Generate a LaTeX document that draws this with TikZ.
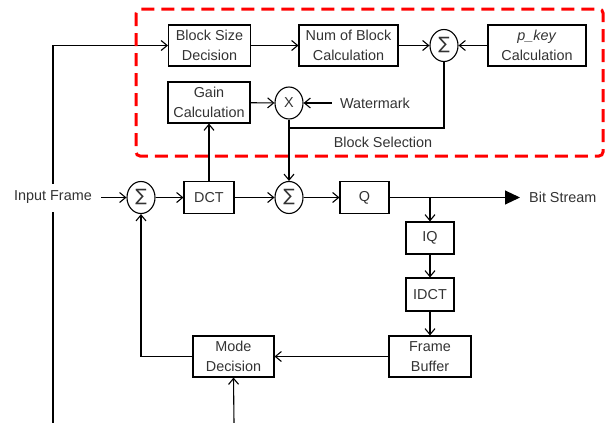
\documentclass[tikz,border=0pt]{standalone}
\usepackage{fontspec}
\setmainfont{Liberation Sans}
\newfontfamily\symfont{DejaVu Sans}
\usetikzlibrary{arrows.meta,shapes.geometric}
\pgfdeclarelayer{bg}
\pgfsetlayers{bg,main}
\begin{document}
\begin{tikzpicture}[x=1pt,y=-1pt,
  font=\fontsize{14.4}{19.5}\selectfont,
  every node/.style={text=black!80},
  box/.style 2 args={draw=black,line width=1.1pt,minimum width=#1,minimum height=#2,inner sep=0pt,align=center},
  sumnode/.style={draw=black,ellipse,line width=1.1pt,minimum width=28pt,minimum height=32pt,inner sep=0pt,font=\symfont\fontsize{17}{17}\selectfont},
  txt/.style={inner sep=2pt},
  ln/.style={draw=black,line width=1.1pt},
  arr/.style={ln,-{Straight Barb[length=6pt,width=10pt]}},
  bigarr/.style={ln,-{Triangle[length=15pt,width=14pt]}},
  region/.style={draw=red,line width=3pt,dash pattern=on 13pt off 7pt,rounded corners=4pt}]
\useasboundingbox (0,0) rectangle (606,423);

% region frame
\draw[region] (136,9) rectangle (603,156);

% nodes
\node[box={82pt}{41pt}] (bsd) at (209.5,45.5) {Block Size\\Decision};
\node[box={99pt}{41pt}] (nbc) at (348.5,45.5) {Num of Block\\Calculation};
\node[sumnode] (s3) at (444,45.5) {∑};
\node[box={98pt}{41pt}] (pk) at (537,45.5) {\textit{p\_key}\\Calculation};
\node[box={82pt}{41pt}] (gain) at (209,102.5) {Gain\\Calculation};
\node[sumnode,font=\fontsize{14.4}{14.4}\selectfont] (mul) at (289,103) {X};
\node[txt] (wm) at (375,103) {Watermark};
\node[txt] (bsel) at (383,142) {Block Selection};
\node[txt,fill=white,inner xsep=9pt,minimum height=28pt] (in) at (53,197.5) {Input Frame};
\node[sumnode] (s1) at (141,197.5) {∑};
\node[box={50pt}{32pt}] (dct) at (209,197.5) {DCT};
\node[sumnode] (s2) at (289,197.5) {∑};
\node[box={49pt}{32pt}] (q) at (364.5,197.5) {Q};
\node[txt,anchor=west,inner xsep=9pt] (bs) at (520,197.5) {Bit Stream};
\node[box={48pt}{32pt}] (iq) at (430,238) {IQ};
\node[box={48pt}{33pt}] (idct) at (430,294.5) {IDCT};
\node[box={82pt}{41pt}] (fb) at (430,356.5) {Frame\\Buffer};
\node[box={81pt}{41pt}] (md) at (233.5,356.5) {Mode\\Decision};
\coordinate (vb) at (53,423);
\coordinate (mdb) at (234,423);
\coordinate (selj) at (289,128);

% connectors
\begin{pgfonlayer}{bg}
\draw[arr] (vb) |- (bsd.west);
\end{pgfonlayer}
\draw[arr] (bsd) -- (nbc);
\draw[arr] (nbc) -- (s3);
\draw[arr] (pk) -- (s3);
\draw[arr] (gain) -- (mul);
\draw[arr] (wm.west) ++(-6pt,0) -- (mul.east);
\draw[ln] (s3.south) |- (selj);
\draw[arr] (mul) -- (s2);
\draw[arr] (dct) -- (gain);
\draw[arr] (in) -- (s1);
\draw[arr] (s1) -- (dct);
\draw[arr] (dct) -- (s2);
\draw[arr] (s2) -- (q);
\draw[bigarr] (q) -- (bs.west);
\draw[arr] (iq.north |- q.east) -- (iq.north);
\draw[arr] (iq) -- (idct);
\draw[arr] (idct) -- (fb);
\draw[arr] (fb) -- (md);
\draw[arr] (md.west) -| (s1.south);
\draw[arr] (mdb) -- (md.south);
\end{tikzpicture}
\end{document}
